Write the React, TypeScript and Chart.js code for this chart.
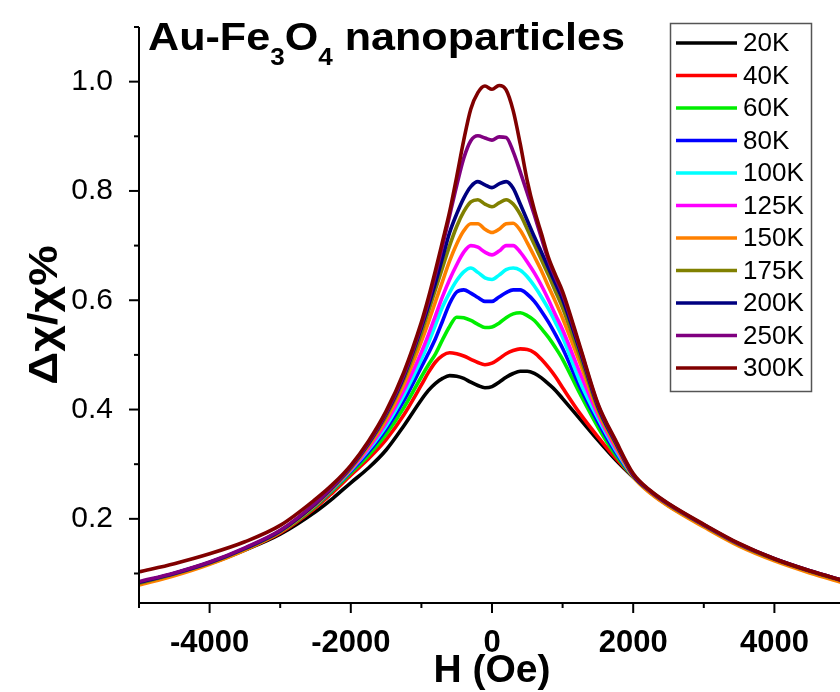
import React, { useEffect, useRef } from "react";
import { Chart, registerables } from "chart.js";

Chart.register(...registerables);

// Applied field H (Oe)
const fieldOe = [
  -5000, -4500, -4000, -3500, -3000, -2500, -2250, -2000, -1750, -1500, -1250, -1000,
  -900, -800, -700, -600, -500, -400, -300, -200, -100, 0, 100, 200, 300, 400,
  500, 600, 700, 800, 900, 1000, 1250, 1500, 1750, 2000, 2250, 2500, 3000, 3500, 4000,
  4500, 5000,
];

// Δχ/χ (%) for each measurement temperature
const chi20K = [0.083, 0.099, 0.118, 0.143, 0.172, 0.213, 0.238, 0.266, 0.293, 0.326, 0.370, 0.418, 0.435, 0.448, 0.457, 0.462, 0.461, 0.457, 0.450, 0.444, 0.440, 0.442, 0.450, 0.459, 0.466, 0.470, 0.470, 0.466, 0.458, 0.447, 0.435, 0.420, 0.382, 0.344, 0.308, 0.276, 0.247, 0.224, 0.187, 0.152, 0.125, 0.103, 0.084];
const chi40K = [0.083, 0.099, 0.119, 0.144, 0.174, 0.220, 0.249, 0.280, 0.310, 0.345, 0.390, 0.445, 0.468, 0.487, 0.499, 0.504, 0.502, 0.498, 0.492, 0.486, 0.482, 0.485, 0.493, 0.502, 0.508, 0.511, 0.510, 0.504, 0.492, 0.477, 0.460, 0.440, 0.392, 0.350, 0.311, 0.277, 0.248, 0.225, 0.188, 0.153, 0.126, 0.104, 0.085];
const chi60K = [0.083, 0.100, 0.120, 0.145, 0.176, 0.223, 0.253, 0.284, 0.316, 0.355, 0.403, 0.460, 0.482, 0.502, 0.528, 0.552, 0.569, 0.568, 0.563, 0.556, 0.550, 0.551, 0.558, 0.568, 0.575, 0.577, 0.572, 0.563, 0.548, 0.532, 0.513, 0.492, 0.428, 0.368, 0.317, 0.277, 0.248, 0.225, 0.188, 0.153, 0.126, 0.104, 0.085];
const chi80K = [0.083, 0.100, 0.120, 0.145, 0.177, 0.225, 0.255, 0.287, 0.322, 0.364, 0.416, 0.478, 0.503, 0.530, 0.562, 0.594, 0.615, 0.619, 0.613, 0.605, 0.598, 0.598, 0.606, 0.614, 0.619, 0.619, 0.611, 0.598, 0.580, 0.560, 0.537, 0.512, 0.440, 0.377, 0.322, 0.278, 0.249, 0.226, 0.188, 0.153, 0.126, 0.104, 0.085];
const chi100K = [0.082, 0.099, 0.119, 0.145, 0.177, 0.226, 0.256, 0.289, 0.326, 0.370, 0.426, 0.492, 0.522, 0.555, 0.588, 0.614, 0.636, 0.652, 0.659, 0.651, 0.641, 0.638, 0.646, 0.656, 0.659, 0.655, 0.643, 0.626, 0.606, 0.584, 0.559, 0.532, 0.450, 0.384, 0.326, 0.278, 0.248, 0.225, 0.188, 0.153, 0.126, 0.104, 0.084];
const chi125K = [0.081, 0.098, 0.119, 0.145, 0.177, 0.226, 0.257, 0.290, 0.329, 0.376, 0.435, 0.505, 0.537, 0.572, 0.607, 0.638, 0.665, 0.688, 0.700, 0.697, 0.688, 0.683, 0.690, 0.700, 0.700, 0.688, 0.670, 0.650, 0.627, 0.601, 0.573, 0.546, 0.466, 0.391, 0.330, 0.278, 0.248, 0.225, 0.187, 0.152, 0.125, 0.103, 0.084];
const chi150K = [0.079, 0.096, 0.117, 0.143, 0.176, 0.226, 0.257, 0.292, 0.333, 0.382, 0.446, 0.525, 0.560, 0.598, 0.635, 0.672, 0.703, 0.727, 0.740, 0.740, 0.730, 0.724, 0.730, 0.740, 0.741, 0.728, 0.705, 0.680, 0.654, 0.625, 0.597, 0.567, 0.484, 0.397, 0.334, 0.277, 0.246, 0.223, 0.185, 0.150, 0.123, 0.101, 0.082];
const chi175K = [0.082, 0.099, 0.119, 0.145, 0.177, 0.227, 0.258, 0.293, 0.336, 0.388, 0.455, 0.540, 0.580, 0.620, 0.660, 0.700, 0.735, 0.762, 0.780, 0.784, 0.776, 0.771, 0.778, 0.784, 0.776, 0.757, 0.730, 0.702, 0.674, 0.646, 0.616, 0.586, 0.496, 0.402, 0.338, 0.279, 0.249, 0.226, 0.188, 0.153, 0.126, 0.104, 0.085];
const chi200K = [0.084, 0.100, 0.120, 0.146, 0.178, 0.228, 0.259, 0.295, 0.338, 0.392, 0.460, 0.550, 0.590, 0.632, 0.678, 0.724, 0.758, 0.787, 0.808, 0.817, 0.811, 0.806, 0.813, 0.817, 0.805, 0.776, 0.746, 0.716, 0.688, 0.659, 0.630, 0.601, 0.506, 0.406, 0.340, 0.280, 0.250, 0.227, 0.189, 0.154, 0.127, 0.105, 0.086];
const chi250K = [0.085, 0.101, 0.121, 0.147, 0.179, 0.229, 0.260, 0.296, 0.339, 0.394, 0.463, 0.555, 0.598, 0.648, 0.700, 0.755, 0.810, 0.860, 0.892, 0.901, 0.897, 0.893, 0.899, 0.898, 0.872, 0.835, 0.796, 0.756, 0.714, 0.673, 0.641, 0.611, 0.511, 0.409, 0.342, 0.281, 0.250, 0.227, 0.189, 0.154, 0.127, 0.105, 0.086];
const chi300K = [0.103, 0.118, 0.136, 0.158, 0.188, 0.236, 0.264, 0.298, 0.342, 0.397, 0.468, 0.560, 0.605, 0.655, 0.708, 0.762, 0.826, 0.893, 0.950, 0.980, 0.992, 0.986, 0.993, 0.985, 0.947, 0.886, 0.818, 0.765, 0.722, 0.678, 0.646, 0.616, 0.514, 0.411, 0.344, 0.283, 0.251, 0.228, 0.190, 0.155, 0.127, 0.105, 0.086];

const temperatures = ["20K", "40K", "60K", "80K", "100K", "125K", "150K", "175K", "200K", "250K", "300K"];
const seriesValues = [chi20K, chi40K, chi60K, chi80K, chi100K, chi125K, chi150K, chi175K, chi200K, chi250K, chi300K];
const seriesColors = ["#000000", "#ff0000", "#00ee00", "#0000ff", "#00ffff", "#ff00ff", "#ff8000", "#808000", "#000080", "#800080", "#800000"];

const xMajorTicks = [-4000, -2000, 0, 2000, 4000];
const yMajorTicks = [0.2, 0.4, 0.6, 0.8, 1.0];

const SANS = '"Liberation Sans", Arial, sans-serif';

const decorPlugin = {
  id: "decor",
  afterDraw(chart: any) {
    const { ctx, chartArea, scales } = chart;
    const xs = scales.x;
    const ys = scales.y;
    ctx.save();
    ctx.strokeStyle = "#000";
    ctx.lineWidth = 2;

    // axis lines
    ctx.beginPath();
    ctx.moveTo(chartArea.left, chartArea.top);
    ctx.lineTo(chartArea.left, chartArea.bottom);
    ctx.lineTo(chartArea.right, chartArea.bottom);
    ctx.stroke();

    // x tick marks (major every 2000, minor every 1000)
    for (let v = -5000; v <= 5000; v += 1000) {
      const px = xs.getPixelForValue(v);
      const len = v % 2000 === 0 ? 10 : 5;
      ctx.beginPath();
      ctx.moveTo(px, chartArea.bottom);
      ctx.lineTo(px, chartArea.bottom + len);
      ctx.stroke();
    }
    // y tick marks (major every 0.2, minor every 0.1)
    for (let k = 1; k <= 11; k++) {
      const v = k / 10;
      const py = ys.getPixelForValue(v);
      const len = k % 2 === 0 ? 10 : 5;
      ctx.beginPath();
      ctx.moveTo(chartArea.left - len, py);
      ctx.lineTo(chartArea.left, py);
      ctx.stroke();
    }

    // title with subscripts
    ctx.fillStyle = "#000";
    ctx.textBaseline = "alphabetic";
    ctx.textAlign = "left";
    const big = `bold 38px ${SANS}`;
    const small = `bold 23px ${SANS}`;
    const parts: [string, string, number][] = [
      ["Au-Fe", big, 0],
      ["3", small, 15],
      ["O", big, 0],
      ["4", small, 15],
      [" nanoparticles", big, 0],
    ];
    let natural = 0;
    for (const [t, f] of parts) {
      ctx.font = f;
      natural += ctx.measureText(t).width;
    }
    const sx = 477 / natural;
    ctx.save();
    ctx.translate(148, 50);
    ctx.scale(sx, 1);
    let cx = 0;
    for (const [t, f, dy] of parts) {
      ctx.font = f;
      ctx.fillText(t, cx, dy);
      cx += ctx.measureText(t).width;
    }
    ctx.restore();

    // y-axis title
    ctx.save();
    ctx.translate(57, 315);
    ctx.rotate(-Math.PI / 2);
    ctx.scale(1.12, 1);
    ctx.font = `bold 41px ${SANS}`;
    ctx.textAlign = "center";
    ctx.textBaseline = "alphabetic";
    ctx.fillText("Δχ/χ%", 0, 0);
    ctx.restore();

    // x-axis title
    ctx.font = `bold 39px ${SANS}`;
    ctx.textAlign = "center";
    ctx.textBaseline = "middle";
    ctx.fillText("H (Oe)", xs.getPixelForValue(0), 671);

    // legend
    const lx = 670, ly = 23, lw = 141, lh = 368;
    ctx.fillStyle = "#fff";
    ctx.fillRect(lx, ly, lw, lh);
    ctx.strokeStyle = "#555";
    ctx.lineWidth = 1.5;
    ctx.strokeRect(lx + 0.5, ly + 0.5, lw, lh);
    ctx.font = `26px ${SANS}`;
    ctx.textAlign = "left";
    ctx.textBaseline = "middle";
    chart.data.datasets.forEach((ds: any, i: number) => {
      const y = 43 + i * 32.5;
      ctx.strokeStyle = ds.borderColor;
      ctx.lineWidth = 3.5;
      ctx.beginPath();
      ctx.moveTo(676, y);
      ctx.lineTo(737, y);
      ctx.stroke();
      ctx.fillStyle = "#000";
      ctx.fillText(ds.label, 743, y + 1);
    });
    ctx.restore();
  },
};

export default function App() {
  const canvasRef = useRef<HTMLCanvasElement | null>(null);

  useEffect(() => {
    const canvas = canvasRef.current;
    if (!canvas) return;
    const datasets = temperatures.map((label, i) => ({
      label,
      data: fieldOe.map((h, j) => ({ x: h, y: seriesValues[i][j] })),
      borderColor: seriesColors[i],
      backgroundColor: seriesColors[i],
      borderWidth: 3.6,
      pointRadius: 0,
      cubicInterpolationMode: "monotone" as const,
      order: temperatures.length - i,
    }));
    const chart = new Chart(canvas, {
      type: "line",
      data: { datasets },
      options: {
        responsive: false,
        animation: false,
        devicePixelRatio: 1,
        layout: { padding: { top: 27, right: 3, left: 0, bottom: 0 } },
        plugins: { legend: { display: false }, tooltip: { enabled: false } },
        scales: {
          x: {
            type: "linear",
            min: -5000,
            max: 5000,
            grid: { display: false },
            border: { display: false },
            afterFit: (s: any) => {
              s.height = 89;
              s.paddingLeft = 0;
              s.paddingRight = 0;
            },
            afterBuildTicks: (s: any) => { s.ticks = xMajorTicks.map((v) => ({ value: v })); },
            ticks: {
              padding: 14,
              color: "#000",
              font: { family: SANS, size: 31, weight: "bold" },
              callback: (v: any) => String(v),
            },
          },
          y: {
            type: "linear",
            min: 0.046,
            max: 1.1,
            grid: { display: false },
            border: { display: false },
            afterFit: (s: any) => {
              s.width = 139;
              s.paddingTop = 0;
              s.paddingBottom = 0;
            },
            afterBuildTicks: (s: any) => { s.ticks = yMajorTicks.map((v) => ({ value: v })); },
            ticks: {
              padding: 18,
              color: "#000",
              font: { family: SANS, size: 30 },
              callback: (v: any) => Number(v).toFixed(1),
            },
          },
        },
      },
      plugins: [decorPlugin],
    });
    return () => chart.destroy();
  }, []);

  return (
    <div style={{ position: "fixed", left: 0, top: 0, width: 840, height: 692, overflow: "hidden", background: "#fff" }}>
      <canvas ref={canvasRef} width={848} height={692} style={{ width: 848, height: 692, display: "block" }} />
    </div>
  );
}
